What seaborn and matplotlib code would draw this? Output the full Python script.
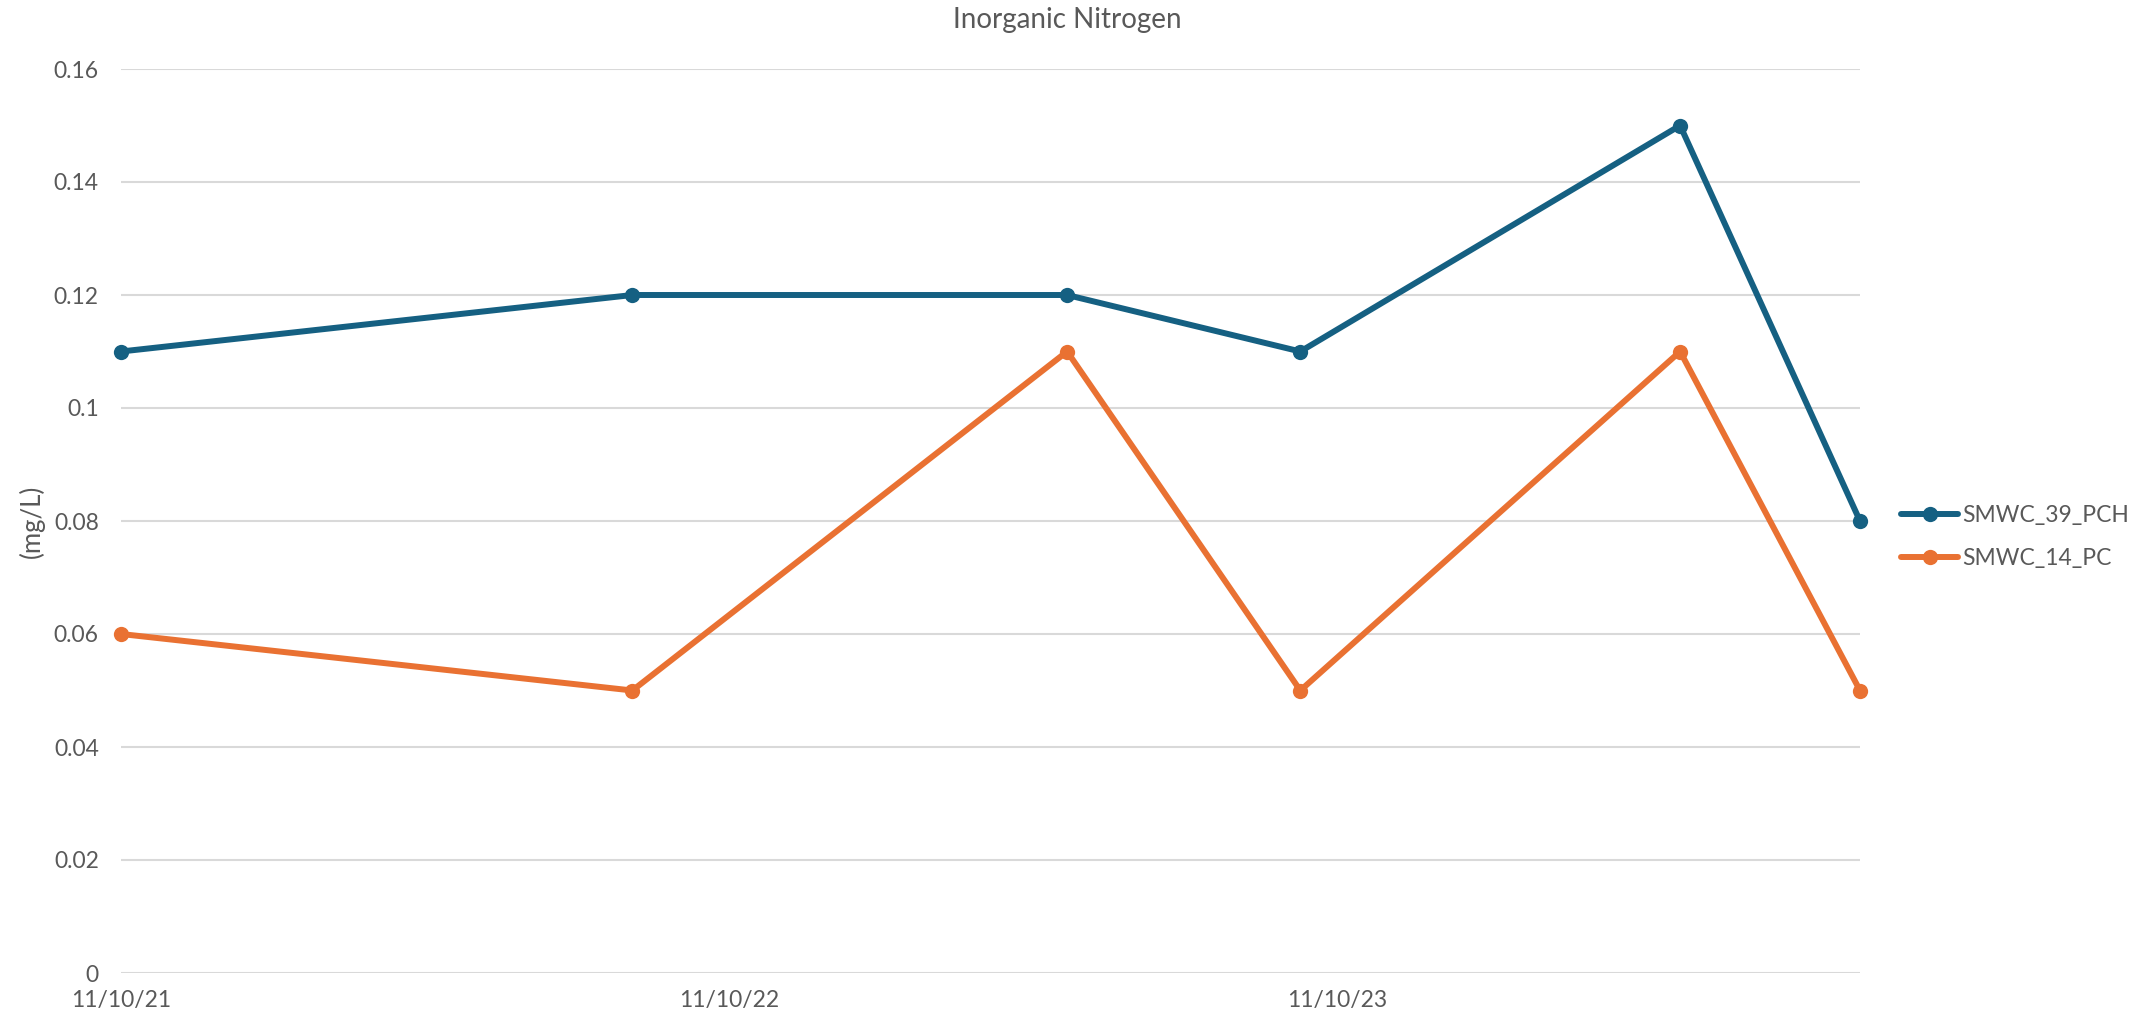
import pandas as pd
import matplotlib
matplotlib.use("Agg")
import matplotlib.pyplot as plt
import matplotlib.dates as mdates
from matplotlib.ticker import FixedLocator, FuncFormatter
import seaborn as sns

# --- DATA ---
sample_dates = ["2021-11-10", "2022-09-13", "2023-06-01", "2023-10-19", "2024-06-03", "2024-09-19"]
smwc_39_pch = [0.11, 0.12, 0.12, 0.11, 0.15, 0.08]
smwc_14_pc = [0.06, 0.05, 0.11, 0.05, 0.11, 0.05]
series_names = ["SMWC_39_PCH", "SMWC_14_PC"]
x_tick_dates = ["2021-11-10", "2022-11-10", "2023-11-10"]
y_ticks = [0, 0.02, 0.04, 0.06, 0.08, 0.1, 0.12, 0.14, 0.16]

# --- STYLE ---
TEXT = "#595959"
GRID = "#D9D9D9"
COLORS = ["#156082", "#E97132"]
W, H = 2151, 1023

sns.set_theme(style="white")
plt.rcParams['font.family'] = ['Lato', 'DejaVu Sans']

df = pd.DataFrame({
    "date": pd.to_datetime(sample_dates * 2),
    "value": smwc_39_pch + smwc_14_pc,
    "site": [series_names[0]] * len(sample_dates) + [series_names[1]] * len(sample_dates),
})

fig = plt.figure(figsize=(W / 100, H / 100), dpi=100)
ax = fig.add_axes([121 / W, 50 / H, (1860 - 121) / W, (973 - 69) / H])

sns.lineplot(data=df, x="date", y="value", hue="site", hue_order=series_names,
             palette=COLORS, marker="o", markersize=11, markeredgewidth=0,
             linewidth=4.3, ax=ax, legend=False)
# markers at the axis ends should not be cut off
for ln in ax.lines:
    ln.set_clip_on(False)

# axes limits / ticks
dates = pd.to_datetime(sample_dates)
ax.set_xlim(mdates.date2num(dates[0]), mdates.date2num(dates[-1]))
ax.set_ylim(y_ticks[0], y_ticks[-1])
ax.xaxis.set_major_locator(FixedLocator(mdates.date2num(pd.to_datetime(x_tick_dates))))
ax.xaxis.set_major_formatter(mdates.DateFormatter("%m/%d/%y"))
ax.set_yticks(y_ticks)
ax.yaxis.set_major_formatter(FuncFormatter(lambda v, p: f"{v:g}"))
ax.tick_params(axis="both", length=0, labelsize=16.5, colors=TEXT)
ax.tick_params(axis="y", pad=16)
ax.tick_params(axis="x", pad=12)

ax.grid(axis="y", color=GRID, linewidth=1.5)
ax.grid(axis="x", visible=False)
for s in ax.spines.values():
    s.set_visible(False)
ax.set_axisbelow(True)

ax.set_xlabel("")
ax.set_ylabel("(mg/L)", fontsize=18.5, color=TEXT, va="center", ha="center")
ax.yaxis.set_label_coords((32 - 121) / (1860 - 121), 0.5)

fig.text(0.496, 1 - 20 / H, "Inorganic Nitrogen", fontsize=20, color=TEXT,
         ha="center", va="center")

# legend
handles = [plt.Line2D([], [], color=c, marker="o", markersize=11, markeredgewidth=0,
                      linewidth=4.3) for c in COLORS]
leg = ax.legend(handles, series_names, loc="center left",
                bbox_to_anchor=(1901 / W, 1 - 537 / H), bbox_transform=fig.transFigure,
                frameon=False, fontsize=16.5, handlelength=2.5, handletextpad=0.15,
                labelspacing=1.0, borderpad=0, borderaxespad=0)
for t in leg.get_texts():
    t.set_color(TEXT)

fig.savefig("out.png", dpi=100)
